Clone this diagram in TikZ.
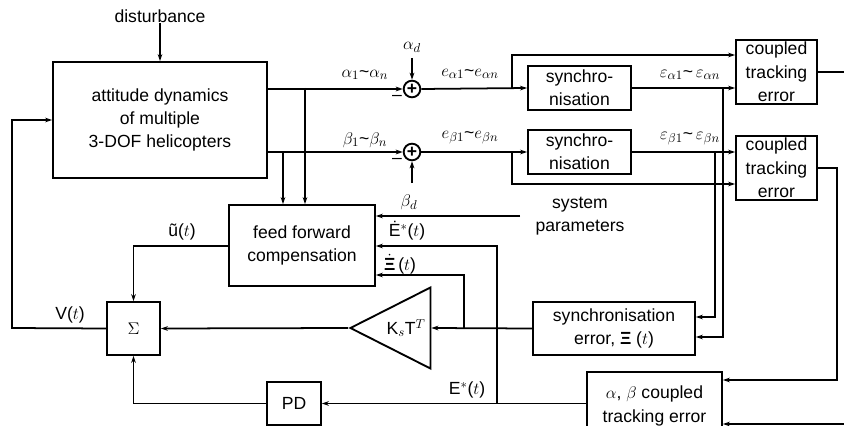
\documentclass[tikz,border=0pt]{standalone}
\usepackage{amsmath,amssymb}
\usepackage{fontspec}
\setmainfont{Liberation Sans}
\usetikzlibrary{arrows.meta,shapes.geometric}

\begin{document}
\begin{tikzpicture}[x=0.03cm,y=-0.03cm,every node/.style={font=\fontsize{15}{20}\selectfont}]
\tikzset{
  blockbox/.style={draw,line width=1.6pt,align=center,inner sep=1pt},
  sumnode/.style={circle,draw,line width=1.6pt,minimum size=0.5cm,inner sep=0pt},
  gainnode/.style={isosceles triangle,draw,line width=1.6pt,shape border rotate=180,
    isosceles triangle stretches,minimum width=2.43cm,minimum height=2.4cm,inner sep=1pt},
  signal/.style={-{Stealth[length=6pt,width=4pt]},line width=1.5pt},
  wire/.style={line width=1.5pt},
  lbl/.style={inner sep=0.5pt}
}
\useasboundingbox (0,0) rectangle (844,426);
% blocks
\node[blockbox,minimum width=6.42cm,minimum height=3.48cm] (n_dyn) at (160,120) {attitude dynamics\\of multiple\\3-DOF helicopters};
\node[lbl] (n_dist) at (160,16) {disturbance};
\node[sumnode] (n_sumA) at (412,89) {\textbf{+}};
\node[sumnode] (n_sumB) at (412,152) {\textbf{+}};
\node[blockbox,minimum width=3.09cm,minimum height=1.32cm] (n_syncA) at (579.5,88) {synchro-\\nisation};
\node[blockbox,minimum width=3.09cm,minimum height=1.32cm] (n_syncB) at (579.5,152) {synchro-\\nisation};
\node[blockbox,minimum width=2.43cm,minimum height=1.92cm] (n_cteA) at (776.5,72) {coupled\\tracking\\error};
\node[blockbox,minimum width=2.43cm,minimum height=1.92cm] (n_cteB) at (776.5,168) {coupled\\tracking\\error};
\node[blockbox,minimum width=4.38cm,minimum height=2.43cm] (n_ff) at (302,245.5) {feed forward\\compensation};
\node[blockbox,minimum width=1.59cm,minimum height=1.59cm] (n_sigma) at (133.5,328.5) {$\Sigma$};
\node[gainnode,anchor=apex] (n_gain) at (348,328) {\hspace{6pt}K$_s$T$^T$};
\node[blockbox,minimum width=4.86cm,minimum height=1.59cm] (n_syncErr) at (614,328.5) {synchronisation\\error, \textbf{Ξ} ($t$)};
\node[blockbox,minimum width=4.05cm,minimum height=2.04cm] (n_abErr) at (654.5,406) {$\alpha$, $\beta$ coupled\\tracking error};
\node[blockbox,minimum width=1.62cm,minimum height=1.29cm] (n_PD) at (294,403.5) {PD};
% free ends and branch points
\coordinate (c_ad) at (412,58);
\coordinate (c_bd) at (412,183);
\coordinate (c_tapA) at (305,88);
\coordinate (c_tapB) at (283,152);
\coordinate (c_brA) at (512,88);
\coordinate (c_brB) at (512,152);
\coordinate (c_vA) at (723,88);
\coordinate (c_vB) at (715,152);
\coordinate (c_outA) at (844,72);
\coordinate (c_inAB) at (844,424);
\coordinate (c_sys) at (520,216);
\coordinate (c_tapE) at (497,403);
\coordinate (c_tapX) at (464,328);
\coordinate (c_fb) at (12,328);
% labels
\node[lbl] at (365,75) {$\alpha_1$\textasciitilde$\alpha_n$};
\node[lbl] at (365,140) {$\beta_1$\textasciitilde$\beta_n$};
\node[lbl] at (412,47) {$\alpha_d$};
\node[lbl] at (409,202) {$\beta_d$};
\node[lbl] at (397,98) {--};
\node[lbl] at (397,161) {--};
\node[lbl] at (470,74) {$e_{\alpha 1}$\textasciitilde$e_{\alpha n}$};
\node[lbl] at (470,138) {$e_{\beta 1}$\textasciitilde$e_{\beta n}$};
\node[lbl] at (690,75) {$\varepsilon_{\alpha 1}$\textasciitilde\,$\varepsilon_{\alpha n}$};
\node[lbl] at (690,139) {$\varepsilon_{\beta 1}$\textasciitilde\,$\varepsilon_{\beta n}$};
\node[lbl,align=center] at (580,216) {system\\parameters};
\node[lbl] at (407,231) {Ė$^*$($t$)};
\node[lbl] at (400,264) {$\dot{\text{\textbf{Ξ}}}$\,($t$)};
\node[lbl] at (182,232) {ũ($t$)};
\node[lbl] at (70,315) {V($t$)};
\node[lbl] at (467,390) {E$^*$($t$)};
% connectors
\draw[signal] (n_dist) -- (n_dyn.north);
\draw[signal] (n_dyn.east |- n_sumA) -- (n_sumA.west);
\draw[signal] (n_dyn.east |- n_sumB) -- (n_sumB.west);
\draw[signal] (c_tapA) -- (c_tapA |- n_ff.north);
\draw[signal] (c_tapB) -- (c_tapB |- n_ff.north);
\draw[signal] (c_ad) -- (n_sumA.north);
\draw[signal] (c_bd) -- (n_sumB.south);
\draw[signal] (n_sumA.east) -- (n_syncA.west);
\draw[signal] (n_sumB.east) -- (n_syncB.west);
\draw[signal] (c_brA) |- (n_cteA.west |- 0,55);
\draw[signal] (c_brB) |- (n_cteB.west |- 0,184);
\draw[signal] (n_syncA.east) -- (n_cteA.west |- n_syncA);
\draw[signal] (n_syncB.east) -- (n_cteB.west |- n_syncB);
\draw[signal] (c_vA) |- (n_syncErr.east |- 0,337);
\draw[signal] (c_vB) |- (n_syncErr.east |- 0,317);
\draw[wire] (n_cteA.east) -- (c_outA);
\draw[signal] (n_cteB.east) -- (837,168) |- (n_abErr.east |- 0,380);
\draw[signal] (c_inAB) -- (n_abErr.east |- c_inAB);
\draw[signal] (n_abErr.west |- n_PD) -- (n_PD.east);
\draw[signal] (c_tapE) |- (n_ff.east |- 0,246);
\draw[signal] (n_syncErr.west) -- (n_gain.lower side);
\draw[signal] (c_tapX) |- (n_ff.east |- 0,275);
\draw[signal] (c_sys) -- (n_ff.east |- c_sys);
\draw[signal] (n_gain.apex) -- (n_sigma.east);
\draw[signal] (n_ff.west |- 0,246) -| (n_sigma.north);
\draw[signal] (n_PD.west) -| (n_sigma.south);
\draw[signal] (n_sigma.west) -- (c_fb) |- (n_dyn.west);
\end{tikzpicture}
\end{document}
